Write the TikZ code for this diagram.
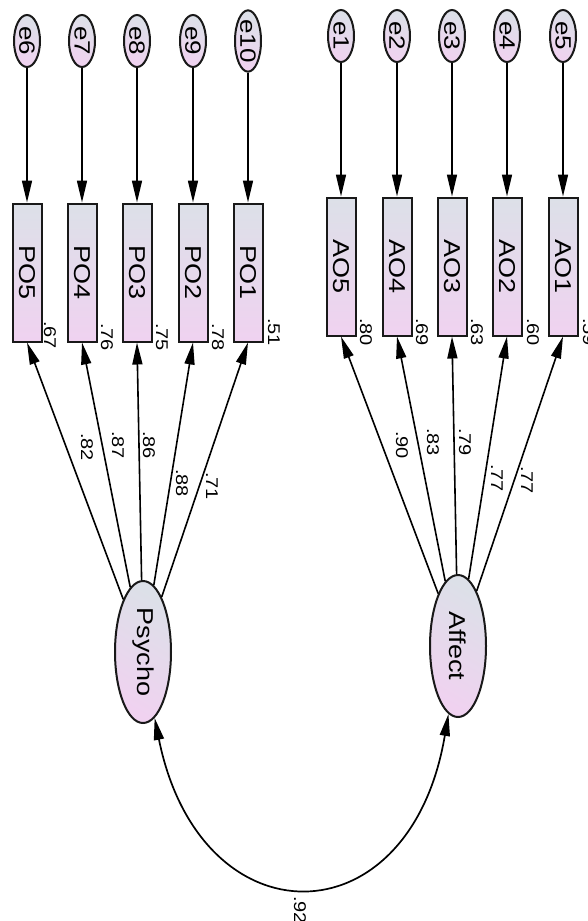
\documentclass[tikz,border=0pt]{standalone}
\usepackage{fontspec}
\setmainfont{Liberation Sans}
\usetikzlibrary{shapes.geometric,arrows.meta}
\definecolor{topblue}{HTML}{DCE0E8}
\definecolor{botpink}{HTML}{F0D2F0}
% text turned to read downwards, slightly narrowed across
\newcommand\vlabel[2]{\scalebox{0.85}[1]{\rotatebox{-90}{\fontsize{#1}{#1}\selectfont #2}}}

\begin{document}
\begin{tikzpicture}[x=1pt,y=-1pt,
  obs/.style={draw=black!90, line width=2pt, rectangle, minimum width=29pt,
    minimum height=138pt, inner sep=0pt, top color=topblue, bottom color=botpink},
  err/.style={draw=black!90, ellipse, line width=2pt, minimum width=26pt,
    minimum height=52pt, inner sep=0pt, top color=topblue, bottom color=botpink,
    shading angle=-30},
  lat/.style={err, minimum width=56pt, minimum height=142pt},
  arr/.style={-{Triangle[length=22pt,width=10pt]}, line width=1.6pt},
  dblarr/.style={{Triangle[length=22pt,width=10pt]}-{Triangle[length=22pt,width=10pt]}, line width=1.7pt},
  num/.style={inner sep=0pt}
]
\useasboundingbox (0,0) rectangle (587,921);
\clip (0,0) rectangle (587,921);

% error terms
\foreach \n/\x in {e6/27,e7/82,e8/137,e9/193,e10/248}
  \node[err] (\n) at (\x,41) {\vlabel{26}{\n}};
\foreach \n/\x in {e1/341,e2/397,e3/452,e4/507,e5/563}
  \node[err] (\n) at (\x,36) {\vlabel{26}{\n}};

% observed indicators
\foreach \n/\x in {PO5/27,PO4/82,PO3/137,PO2/193,PO1/248}
  \node[obs] (\n) at (\x,272.5) {\vlabel{27}{\n}};
\foreach \n/\x in {AO5/341,AO4/397,AO3/452,AO2/507,AO1/563}
  \node[obs] (\n) at (\x,266.5) {\vlabel{27}{\n}};

% latent factors
\node[lat] (Psycho) at (143,652) {\vlabel{27}{Psycho}};
\node[lat] (Affect) at (458,646) {\vlabel{27}{Affect}};

% error paths
\foreach \e/\b in {e6/PO5,e7/PO4,e8/PO3,e9/PO2,e10/PO1,e1/AO5,e2/AO4,e3/AO3,e4/AO2,e5/AO1}
  \draw[arr] (\e) -- (\b.north);

% factor loadings
\foreach \b in {PO5,PO4,PO3,PO2,PO1}
  \draw[arr] (Psycho) -- (\b.south);
\foreach \b in {AO5,AO4,AO3,AO2,AO1}
  \draw[arr] (Affect) -- (\b.south);

% factor covariance
\draw[dblarr] (Psycho.-80) .. controls (200,943) and (410,943) .. (Affect.-98);

% standardized loadings
\foreach \k/\x/\y/\t in {l1/87/447/.82, l2/118/445/.87, l3/149/445/.86, l4/182/483/.88, l5/212/486/.71,
    l6/402/445/.90, l7/433/442/.83, l8/465/442/.79, l9/497/478/.77, l10/527/480/.77}
  \node[num] (\k) at (\x,\y) {\vlabel{20}{\t}};

% squared multiple correlations
\foreach \k/\x/\y/\t in {r1/50/335/.67, r2/107/337/.76, r3/162/337/.75, r4/218/337/.78, r5/274/332/.51,
    r6/366/332/.80, r7/422/332/.69, r8/477/332/.63, r9/533/332/.60, r10/589/332/.59}
  \node[num] (\k) at (\x,\y) {\vlabel{20}{\t}};

% correlation
\node[num] (cor) at (300,910) {\vlabel{20}{.92}};
\end{tikzpicture}
\end{document}
